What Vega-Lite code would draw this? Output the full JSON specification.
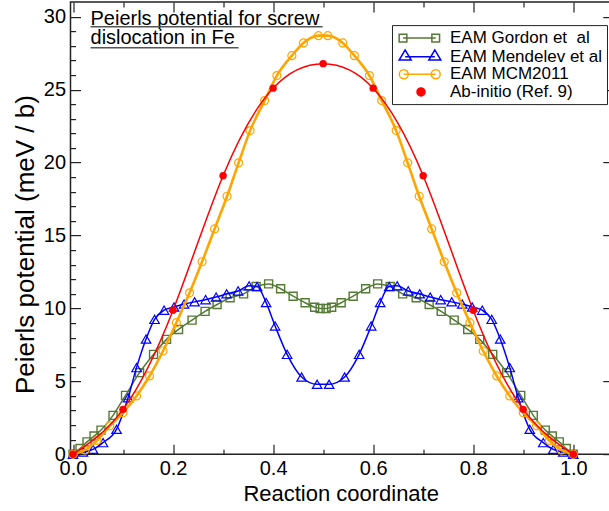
{
  "$schema": "https://vega.github.io/schema/vega-lite/v6.json",
  "width": 540.3,
  "height": 452.2,
  "autosize": {"type": "none"},
  "padding": {"left": 70.5, "top": 2.1, "right": 0, "bottom": 56.7},
  "config": {
    "font": "Liberation Sans",
    "view": {"stroke": "#222", "strokeWidth": 1.5},
    "axis": {"grid": false, "domain": false, "tickColor": "#222", "tickWidth": 1.2, "labelColor": "#000", "titleColor": "#000", "labelFont": "Liberation Sans", "titleFont": "Liberation Sans", "titleFontWeight": "normal", "labelFontSize": 20},
    "legend": {"strokeColor": "#222", "fillColor": "#fff", "padding": 4, "rowPadding": 0.6, "symbolSize": 256, "symbolStrokeWidth": 1.5, "symbolOpacity": 1, "labelFont": "Liberation Sans", "labelFontSize": 17, "labelColor": "#000", "labelOffset": 36, "labelLimit": 300}
  },
  "datasets": {
    "gordon": [{"x":0,"v":0},{"x":0.014,"v":0.4},{"x":0.028,"v":0.85},{"x":0.042,"v":1.25},{"x":0.056,"v":1.66},{"x":0.08,"v":2.67},{"x":0.105,"v":4.04},{"x":0.133,"v":5.6},{"x":0.161,"v":6.85},{"x":0.187,"v":7.88},{"x":0.211,"v":8.56},{"x":0.238,"v":9.2},{"x":0.264,"v":9.8},{"x":0.288,"v":10.27},{"x":0.314,"v":10.73},{"x":0.341,"v":11.0},{"x":0.366,"v":11.5},{"x":0.391,"v":11.68},{"x":0.415,"v":11.35},{"x":0.44,"v":10.84},{"x":0.464,"v":10.39},{"x":0.483,"v":10.08},{"x":0.494,"v":10.0},{"x":0.506,"v":10.0},{"x":0.517,"v":10.08},{"x":0.536,"v":10.39},{"x":0.56,"v":10.84},{"x":0.585,"v":11.35},{"x":0.609,"v":11.68},{"x":0.634,"v":11.5},{"x":0.659,"v":11.0},{"x":0.686,"v":10.73},{"x":0.712,"v":10.27},{"x":0.736,"v":9.8},{"x":0.762,"v":9.2},{"x":0.789,"v":8.56},{"x":0.813,"v":7.88},{"x":0.839,"v":6.85},{"x":0.867,"v":5.6},{"x":0.895,"v":4.04},{"x":0.92,"v":2.67},{"x":0.944,"v":1.66},{"x":0.958,"v":1.25},{"x":0.972,"v":0.85},{"x":0.986,"v":0.4},{"x":1,"v":0}],
    "mendelev": [{"x":0,"v":0},{"x":0.02,"v":0.15},{"x":0.04,"v":0.34},{"x":0.06,"v":0.8},{"x":0.087,"v":1.71},{"x":0.11,"v":3.87},{"x":0.127,"v":5.94},{"x":0.146,"v":7.9},{"x":0.163,"v":9.25},{"x":0.182,"v":9.88},{"x":0.202,"v":10.1},{"x":0.222,"v":10.3},{"x":0.243,"v":10.45},{"x":0.265,"v":10.6},{"x":0.286,"v":10.78},{"x":0.307,"v":11.0},{"x":0.33,"v":11.2},{"x":0.352,"v":11.55},{"x":0.368,"v":11.5},{"x":0.386,"v":10.4},{"x":0.404,"v":8.8},{"x":0.428,"v":6.85},{"x":0.457,"v":5.3},{"x":0.488,"v":4.8},{"x":0.512,"v":4.8},{"x":0.543,"v":5.3},{"x":0.572,"v":6.85},{"x":0.596,"v":8.8},{"x":0.614,"v":10.4},{"x":0.632,"v":11.5},{"x":0.648,"v":11.55},{"x":0.67,"v":11.2},{"x":0.693,"v":11.0},{"x":0.714,"v":10.78},{"x":0.735,"v":10.6},{"x":0.757,"v":10.45},{"x":0.778,"v":10.3},{"x":0.798,"v":10.1},{"x":0.818,"v":9.88},{"x":0.837,"v":9.25},{"x":0.854,"v":7.9},{"x":0.873,"v":5.94},{"x":0.89,"v":3.87},{"x":0.913,"v":1.71},{"x":0.94,"v":0.8},{"x":0.96,"v":0.34},{"x":0.98,"v":0.15},{"x":1,"v":0}],
    "mcm": [{"x":0,"v":0},{"x":0.024,"v":0.3},{"x":0.048,"v":0.95},{"x":0.0735,"v":1.95},{"x":0.1,"v":2.85},{"x":0.127,"v":4.0},{"x":0.153,"v":5.37},{"x":0.18,"v":7.08},{"x":0.2066,"v":9.02},{"x":0.233,"v":11.07},{"x":0.258,"v":13.2},{"x":0.283,"v":15.45},{"x":0.308,"v":17.69},{"x":0.331,"v":19.98},{"x":0.354,"v":22.19},{"x":0.383,"v":24.25},{"x":0.4075,"v":25.96},{"x":0.4375,"v":27.33},{"x":0.4607,"v":28.2},{"x":0.4906,"v":28.7},{"x":0.5094,"v":28.7},{"x":0.5393,"v":28.2},{"x":0.5625,"v":27.33},{"x":0.5925,"v":25.96},{"x":0.617,"v":24.25},{"x":0.646,"v":22.19},{"x":0.669,"v":19.98},{"x":0.692,"v":17.69},{"x":0.717,"v":15.45},{"x":0.742,"v":13.2},{"x":0.767,"v":11.07},{"x":0.7934,"v":9.02},{"x":0.82,"v":7.08},{"x":0.847,"v":5.37},{"x":0.873,"v":4.0},{"x":0.9,"v":2.85},{"x":0.9265,"v":1.95},{"x":0.952,"v":0.95},{"x":0.976,"v":0.3},{"x":1,"v":0}],
    "abinitio": [{"x":0,"v":0},{"x":0.1,"v":3.08},{"x":0.2,"v":9.88},{"x":0.3,"v":19.1},{"x":0.4,"v":25.1},{"x":0.5,"v":26.78},{"x":0.6,"v":25.1},{"x":0.7,"v":19.1},{"x":0.8,"v":9.88},{"x":0.9,"v":3.08},{"x":1,"v":0}],
    "series": [{"s":"EAM Gordon et\u00a0 al"},{"s":"EAM Mendelev et al"},{"s":"EAM MCM2011"},{"s":"Ab-initio (Ref. 9)"}]
  },
  "resolve": {"axis": {"x": "independent", "y": "independent"}},
  "layer": [
    {
      "data": {"name": "gordon"},
      "mark": {"type": "line", "color": "#557a35", "strokeWidth": 1.5, "interpolate": "monotone"},
      "encoding": {
        "x": {"field": "x", "type": "quantitative", "scale": {"domain": [-0.005, 1.075], "nice": false, "zero": false},
              "axis": {"orient": "bottom", "values": [0, 0.2, 0.4, 0.6, 0.8, 1.0], "format": ".1f", "tickSize": -10, "labelPadding": 14, "labelFlush": false, "labelOverlap": false, "title": "Reaction coordinate", "titleFontSize": 22, "titlePadding": 5}},
        "y": {"field": "v", "type": "quantitative", "scale": {"domain": [0, 31], "nice": false},
              "axis": {"orient": "left", "values": [0, 5, 10, 15, 20, 25, 30], "tickSize": -10, "labelPadding": 15, "labelFlush": false, "labelOverlap": false, "title": "Peierls potential (meV / b)", "titleFontSize": 26, "titlePadding": 5, "titleY": 242}}
      }
    },
    {
      "data": {"name": "gordon"},
      "mark": {"type": "point", "shape": "square", "size": 64, "color": "#557a35", "strokeWidth": 1.4, "filled": false, "opacity": 1},
      "encoding": {
        "x": {"field": "x", "type": "quantitative", "axis": {"orient": "bottom", "values": [0.1, 0.3, 0.5, 0.7, 0.9], "labels": false, "tickSize": -5, "title": null}},
        "y": {"field": "v", "type": "quantitative", "axis": {"orient": "left", "values": [1,2,3,4,6,7,8,9,11,12,13,14,16,17,18,19,21,22,23,24,26,27,28,29], "labels": false, "tickSize": -5, "title": null}}
      }
    },
    {
      "data": {"name": "mendelev"},
      "mark": {"type": "line", "color": "#0000ff", "strokeWidth": 1.5, "interpolate": "monotone"},
      "encoding": {
        "x": {"field": "x", "type": "quantitative", "axis": {"orient": "top", "values": [0, 0.2, 0.4, 0.6, 0.8, 1.0], "labels": false, "tickSize": -10, "title": null}},
        "y": {"field": "v", "type": "quantitative", "axis": {"orient": "right", "values": [0, 5, 10, 15, 20, 25, 30], "labels": false, "tickSize": -8, "title": null}}
      }
    },
    {
      "data": {"name": "mendelev"},
      "mark": {"type": "point", "shape": "triangle-up", "size": 90, "color": "#0000ff", "strokeWidth": 1.2, "filled": false, "opacity": 1},
      "encoding": {
        "x": {"field": "x", "type": "quantitative", "axis": {"orient": "top", "values": [0.1, 0.3, 0.5, 0.7, 0.9], "labels": false, "tickSize": -5, "title": null}},
        "y": {"field": "v", "type": "quantitative", "axis": null}
      }
    },
    {
      "data": {"name": "mcm"},
      "mark": {"type": "line", "color": "#ffa500", "strokeWidth": 2.6, "interpolate": "monotone"},
      "encoding": {
        "x": {"field": "x", "type": "quantitative", "axis": null},
        "y": {"field": "v", "type": "quantitative", "axis": null}
      }
    },
    {
      "data": {"name": "mcm"},
      "mark": {"type": "point", "shape": "circle", "size": 64, "color": "#ffa500", "strokeWidth": 1.2, "filled": false, "opacity": 1},
      "encoding": {
        "x": {"field": "x", "type": "quantitative", "axis": null},
        "y": {"field": "v", "type": "quantitative", "axis": null}
      }
    },
    {
      "data": {"name": "abinitio"},
      "mark": {"type": "line", "color": "#ff0000", "strokeWidth": 1.5, "interpolate": "natural"},
      "encoding": {
        "x": {"field": "x", "type": "quantitative", "axis": null},
        "y": {"field": "v", "type": "quantitative", "axis": null}
      }
    },
    {
      "data": {"name": "abinitio"},
      "mark": {"type": "point", "shape": "circle", "size": 55, "color": "#ff0000", "filled": true, "opacity": 1},
      "encoding": {
        "x": {"field": "x", "type": "quantitative", "axis": null},
        "y": {"field": "v", "type": "quantitative", "axis": null}
      }
    },
    {
      "data": {"values": [{}]},
      "mark": {"type": "text", "text": ["Peierls potential for screw", "dislocation in Fe"], "align": "left", "baseline": "alphabetic", "fontSize": 20, "lineHeight": 19.5, "font": "Liberation Sans", "color": "#000"},
      "encoding": {
        "x": {"datum": 0.035, "type": "quantitative", "axis": null},
        "y": {"datum": 29.43, "type": "quantitative", "axis": null}
      }
    },
    {
      "data": {"values": [{}]},
      "mark": {"type": "rule", "color": "#555", "strokeWidth": 1.5},
      "encoding": {
        "x": {"datum": 0.035, "type": "quantitative", "axis": null},
        "x2": {"datum": 0.499},
        "y": {"datum": 29.31, "type": "quantitative", "axis": null}
      }
    },
    {
      "data": {"values": [{}]},
      "mark": {"type": "rule", "color": "#555", "strokeWidth": 1.5},
      "encoding": {
        "x": {"datum": 0.035, "type": "quantitative", "axis": null},
        "x2": {"datum": 0.331},
        "y": {"datum": 27.87, "type": "quantitative", "axis": null}
      }
    },
    {
      "data": {"name": "series"},
      "mark": {"type": "point", "opacity": 0, "filled": false},
      "encoding": {
        "shape": {"field": "s", "type": "nominal",
                  "scale": {"domain": ["EAM Gordon et\u00a0 al", "EAM Mendelev et al", "EAM MCM2011", "Ab-initio (Ref. 9)"],
                            "range": ["M-0.25,0H3.84M-0.73,-0.48H0.23V0.48H-0.73ZM3.36,-0.48H4.32V0.48H3.36Z",
                                      "M0.02,0H3.73M0.02,-0.84L-0.73,0.42H0.77ZM3.73,-0.84L2.98,0.42H4.48Z",
                                      "M-0.15,0H3.84M0.41,0A0.56,0.56 0 1 1 -0.71,0A0.56,0.56 0 1 1 0.41,0ZM4.4,0A0.56,0.56 0 1 1 3.28,0A0.56,0.56 0 1 1 4.4,0Z",
                                      "M2.5,0A0.5,0.5 0 1 1 1.5,0A0.5,0.5 0 1 1 2.5,0Z"]},
                  "legend": {"title": null, "orient": "none", "legendX": 321.5, "legendY": 23}},
        "stroke": {"field": "s", "type": "nominal",
                   "scale": {"domain": ["EAM Gordon et\u00a0 al", "EAM Mendelev et al", "EAM MCM2011", "Ab-initio (Ref. 9)"],
                             "range": ["#557a35", "#0000ff", "#ffa500", "#ff0000"]},
                   "legend": {"title": null, "orient": "none", "legendX": 321.5, "legendY": 23}},
        "fill": {"field": "s", "type": "nominal",
                 "scale": {"domain": ["EAM Gordon et\u00a0 al", "EAM Mendelev et al", "EAM MCM2011", "Ab-initio (Ref. 9)"],
                           "range": ["transparent", "transparent", "transparent", "#ff0000"]},
                 "legend": {"title": null, "orient": "none", "legendX": 321.5, "legendY": 23}}
      }
    }
  ]
}
